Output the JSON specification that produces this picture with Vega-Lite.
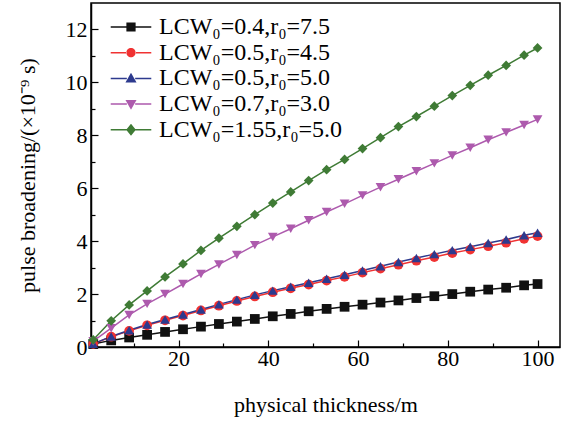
{
  "$schema": "https://vega.github.io/schema/vega-lite/v6.json",
  "width": 469,
  "height": 344,
  "autosize": {"type": "none"},
  "padding": {"left": 91, "top": 3, "right": 6, "bottom": 75},
  "background": "white",
  "config": {
    "view": {"stroke": "black", "strokeWidth": 1.5},
    "font": "Liberation Serif",
    "axis": {
      "labelFont": "Liberation Serif", "labelFontSize": 22, "labelColor": "black",
      "titleFont": "Liberation Serif", "titleFontSize": 22, "titleFontWeight": "normal", "titleColor": "black",
      "domainColor": "black", "domainWidth": 1.5, "tickColor": "black", "tickWidth": 1.2, "grid": false
    }
  },
  "data": {"values": [
    {"s":"A","x":1,"y":0.11},{"s":"A","x":5,"y":0.25},{"s":"A","x":9,"y":0.36},{"s":"A","x":13,"y":0.46},{"s":"A","x":17,"y":0.57},{"s":"A","x":21,"y":0.67},{"s":"A","x":25,"y":0.77},{"s":"A","x":29,"y":0.87},{"s":"A","x":33,"y":0.96},{"s":"A","x":37,"y":1.06},{"s":"A","x":41,"y":1.16},{"s":"A","x":45,"y":1.25},{"s":"A","x":49,"y":1.35},{"s":"A","x":53,"y":1.44},{"s":"A","x":57,"y":1.52},{"s":"A","x":61,"y":1.60},{"s":"A","x":65,"y":1.68},{"s":"A","x":69,"y":1.76},{"s":"A","x":73,"y":1.85},{"s":"A","x":77,"y":1.92},{"s":"A","x":81,"y":2.00},{"s":"A","x":85,"y":2.09},{"s":"A","x":89,"y":2.17},{"s":"A","x":93,"y":2.24},{"s":"A","x":97,"y":2.33},{"s":"A","x":100,"y":2.38},
    {"s":"B","x":1,"y":0.12},{"s":"B","x":5,"y":0.39},{"s":"B","x":9,"y":0.61},{"s":"B","x":13,"y":0.82},{"s":"B","x":17,"y":1.01},{"s":"B","x":21,"y":1.19},{"s":"B","x":25,"y":1.38},{"s":"B","x":29,"y":1.56},{"s":"B","x":33,"y":1.74},{"s":"B","x":37,"y":1.91},{"s":"B","x":41,"y":2.07},{"s":"B","x":45,"y":2.22},{"s":"B","x":49,"y":2.36},{"s":"B","x":53,"y":2.51},{"s":"B","x":57,"y":2.65},{"s":"B","x":61,"y":2.81},{"s":"B","x":65,"y":2.96},{"s":"B","x":69,"y":3.11},{"s":"B","x":73,"y":3.26},{"s":"B","x":77,"y":3.40},{"s":"B","x":81,"y":3.55},{"s":"B","x":85,"y":3.68},{"s":"B","x":89,"y":3.81},{"s":"B","x":93,"y":3.94},{"s":"B","x":97,"y":4.09},{"s":"B","x":100,"y":4.19},
    {"s":"C","x":1,"y":0.12},{"s":"C","x":5,"y":0.40},{"s":"C","x":9,"y":0.63},{"s":"C","x":13,"y":0.85},{"s":"C","x":17,"y":1.04},{"s":"C","x":21,"y":1.23},{"s":"C","x":25,"y":1.42},{"s":"C","x":29,"y":1.61},{"s":"C","x":33,"y":1.79},{"s":"C","x":37,"y":1.97},{"s":"C","x":41,"y":2.13},{"s":"C","x":45,"y":2.28},{"s":"C","x":49,"y":2.43},{"s":"C","x":53,"y":2.58},{"s":"C","x":57,"y":2.73},{"s":"C","x":61,"y":2.89},{"s":"C","x":65,"y":3.05},{"s":"C","x":69,"y":3.21},{"s":"C","x":73,"y":3.36},{"s":"C","x":77,"y":3.51},{"s":"C","x":81,"y":3.66},{"s":"C","x":85,"y":3.79},{"s":"C","x":89,"y":3.93},{"s":"C","x":93,"y":4.06},{"s":"C","x":97,"y":4.22},{"s":"C","x":100,"y":4.32},
    {"s":"D","x":1,"y":0.22},{"s":"D","x":5,"y":0.71},{"s":"D","x":9,"y":1.21},{"s":"D","x":13,"y":1.63},{"s":"D","x":17,"y":2.00},{"s":"D","x":21,"y":2.38},{"s":"D","x":25,"y":2.76},{"s":"D","x":29,"y":3.12},{"s":"D","x":33,"y":3.48},{"s":"D","x":37,"y":3.85},{"s":"D","x":41,"y":4.16},{"s":"D","x":45,"y":4.47},{"s":"D","x":49,"y":4.79},{"s":"D","x":53,"y":5.10},{"s":"D","x":57,"y":5.41},{"s":"D","x":61,"y":5.73},{"s":"D","x":65,"y":6.04},{"s":"D","x":69,"y":6.34},{"s":"D","x":73,"y":6.64},{"s":"D","x":77,"y":6.94},{"s":"D","x":81,"y":7.24},{"s":"D","x":85,"y":7.53},{"s":"D","x":89,"y":7.83},{"s":"D","x":93,"y":8.11},{"s":"D","x":97,"y":8.39},{"s":"D","x":100,"y":8.60},
    {"s":"E","x":1,"y":0.27},{"s":"E","x":5,"y":0.99},{"s":"E","x":9,"y":1.59},{"s":"E","x":13,"y":2.12},{"s":"E","x":17,"y":2.65},{"s":"E","x":21,"y":3.14},{"s":"E","x":25,"y":3.65},{"s":"E","x":29,"y":4.11},{"s":"E","x":33,"y":4.56},{"s":"E","x":37,"y":5.00},{"s":"E","x":41,"y":5.44},{"s":"E","x":45,"y":5.86},{"s":"E","x":49,"y":6.29},{"s":"E","x":53,"y":6.70},{"s":"E","x":57,"y":7.09},{"s":"E","x":61,"y":7.50},{"s":"E","x":65,"y":7.91},{"s":"E","x":69,"y":8.33},{"s":"E","x":73,"y":8.71},{"s":"E","x":77,"y":9.10},{"s":"E","x":81,"y":9.50},{"s":"E","x":85,"y":9.89},{"s":"E","x":89,"y":10.27},{"s":"E","x":93,"y":10.64},{"s":"E","x":97,"y":11.03},{"s":"E","x":100,"y":11.30}
  ]},
  "encoding": {
    "x": {"field": "x", "type": "quantitative",
      "scale": {"domain": [0.5, 105], "nice": false, "zero": false},
      "axis": {"values": [10,20,30,40,50,60,70,80,90,100], "title": "physical thickness/m",
        "labelExpr": "datum.value % 20 == 0 ? datum.label : ''",
        "tickSize": {"condition": {"test": "datum.value % 20 != 0", "value": -4}, "value": -7},
        "labelPadding": 8, "titlePadding": 25}},
    "y": {"field": "y", "type": "quantitative",
      "scale": {"domain": [0, 13], "nice": false},
      "axis": {"values": [0,1,2,3,4,5,6,7,8,9,10,11,12], "title": "pulse broadening/(×10⁻⁹ s)",
        "labelExpr": "datum.value % 2 == 0 ? datum.label : ''",
        "tickSize": {"condition": {"test": "datum.value % 2 != 0", "value": -4}, "value": -7},
        "labelPadding": 11, "titlePadding": 26}}
  },
  "resolve": {"scale": {"color": "independent", "shape": "independent"}},
  "layer": [
    {"mark": {"type": "point", "filled": true, "opacity": 0, "size": 10},
     "encoding": {
       "color": {"field": "s", "type": "nominal",
         "scale": {"domain": ["A","B","C","D","E"], "range": ["#111111","#f03232","#2d3a8e","#ad5aad","#3f7b35"]},
         "legend": {"title": null, "orient": "none", "legendX": 28, "legendY": 12, "padding": 0,
           "labelFont": "Liberation Serif", "labelFontSize": 24, "labelColor": "black", "labelOffset": 16,
           "symbolSize": 85, "rowPadding": 1.7, "labelLimit": 400, "symbolStrokeWidth": 0, "symbolOpacity": 1,
           "labelExpr": "datum.value == 'A' ? 'LCW₀=0.4,r₀=7.5' : datum.value == 'B' ? 'LCW₀=0.5,r₀=4.5' : datum.value == 'C' ? 'LCW₀=0.5,r₀=5.0' : datum.value == 'D' ? 'LCW₀=0.7,r₀=3.0' : 'LCW₀=1.55,r₀=5.0'"}},
       "shape": {"field": "s", "type": "nominal",
         "scale": {"domain": ["A","B","C","D","E"], "range": [
           "M-1,-1H1V1H-1Z M-4.4,-0.16H-0.9V0.16H-4.4Z M0.9,-0.16H4.4V0.16H0.9Z",
           "M-1,0A1,1 0 1,0 1,0A1,1 0 1,0 -1,0Z M-4.4,-0.16H-0.9V0.16H-4.4Z M0.9,-0.16H4.4V0.16H0.9Z",
           "M0,-1.2L1.2,0.9H-1.2Z M-4.4,-0.16H-0.9V0.16H-4.4Z M0.9,-0.16H4.4V0.16H0.9Z",
           "M0,1.2L1.2,-0.9H-1.2Z M-4.4,-0.16H-0.9V0.16H-4.4Z M0.9,-0.16H4.4V0.16H0.9Z",
           "M0,-1.3L1.05,0L0,1.3L-1.05,0Z M-4.4,-0.16H-0.9V0.16H-4.4Z M0.9,-0.16H4.4V0.16H0.9Z"]},
         "legend": {"title": null, "orient": "none", "legendX": 28, "legendY": 12, "padding": 0,
           "labelFont": "Liberation Serif", "labelFontSize": 24, "labelColor": "black", "labelOffset": 16,
           "symbolSize": 85, "rowPadding": 1.7, "labelLimit": 400, "symbolStrokeWidth": 0, "symbolOpacity": 1,
           "labelExpr": "datum.value == 'A' ? 'LCW₀=0.4,r₀=7.5' : datum.value == 'B' ? 'LCW₀=0.5,r₀=4.5' : datum.value == 'C' ? 'LCW₀=0.5,r₀=5.0' : datum.value == 'D' ? 'LCW₀=0.7,r₀=3.0' : 'LCW₀=1.55,r₀=5.0'"}}
     }},
    {"mark": {"type": "line", "strokeWidth": 1.5},
     "encoding": {
       "color": {"field": "s", "type": "nominal", "legend": null,
         "scale": {"domain": ["A","B","C","D","E"], "range": ["#111111","#f03232","#2d3a8e","#ad5aad","#3f7b35"]}},
       "detail": {"field": "s"}}},
    {"mark": {"type": "point", "filled": true, "opacity": 1, "size": 95},
     "encoding": {
       "color": {"field": "s", "type": "nominal", "legend": null,
         "scale": {"domain": ["A","B","C","D","E"], "range": ["#111111","#f03232","#2d3a8e","#ad5aad","#3f7b35"]}},
       "shape": {"field": "s", "type": "nominal", "legend": null,
         "scale": {"domain": ["A","B","C","D","E"], "range": ["square","circle","triangle-up","triangle-down","diamond"]}}
     }}
  ]
}
